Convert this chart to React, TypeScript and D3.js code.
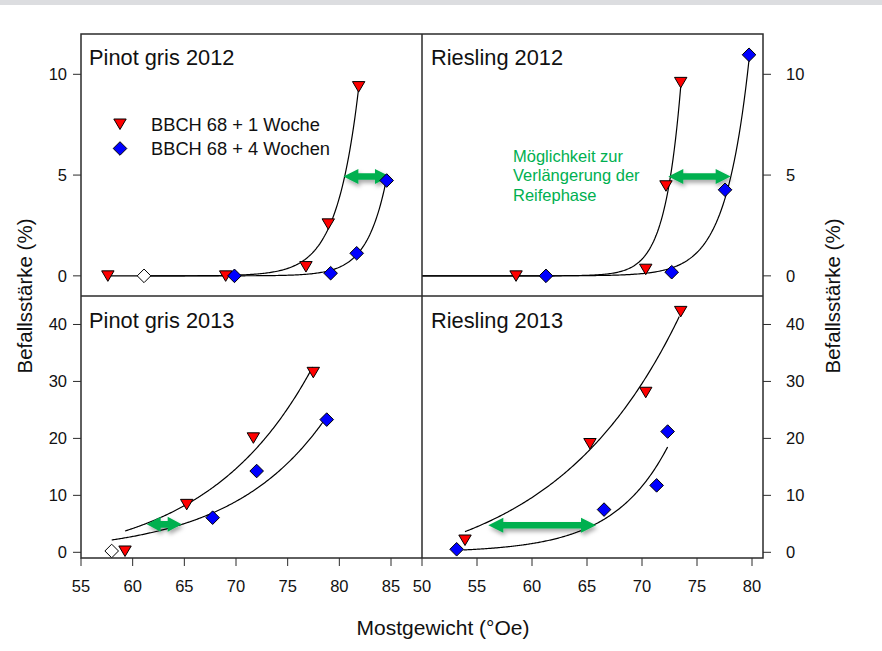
import React from "react";
import * as d3 from "d3";

// ---- data ----
const pg2012Red: [number, number][] = [[57.6, 0], [69.0, 0], [76.77, 0.46], [78.93, 2.58], [81.87, 9.39]];
const pg2012Blue: [number, number][] = [[69.85, 0], [79.16, 0.13], [81.68, 1.12], [84.58, 4.73]];
const pg2012Open: [number, number][] = [[61.1, 0]];

const r2012Red: [number, number][] = [[58.55, 0], [70.34, 0.33], [72.18, 4.47], [73.52, 9.6]];
const r2012Blue: [number, number][] = [[61.27, 0], [72.7, 0.18], [77.55, 4.27], [79.73, 10.97]];
const r2012Open: [number, number][] = [];

const pg2013Red: [number, number][] = [[59.26, 0.23], [65.23, 8.42], [71.68, 20.1], [77.48, 31.6]];
const pg2013Blue: [number, number][] = [[67.74, 6.08], [72.0, 14.27], [78.78, 23.3]];
const pg2013Open: [number, number][] = [[57.97, 0.23]];

const r2013Red: [number, number][] = [[53.91, 2.16], [65.27, 19.1], [70.34, 28.1], [73.52, 42.3]];
const r2013Blue: [number, number][] = [[53.15, 0.53], [66.55, 7.5], [71.33, 11.75], [72.33, 21.2]];
const r2013Open: [number, number][] = [];

// exponential regression curves: [xStart, xEnd, y0, a, b, xRef]  y = y0 + a*exp(b*(x-xRef))
const fitPg2012Red = [57.6, 81.87, 0, 9.32, 0.47, 81.87];
const fitPg2012Blue = [61.1, 84.58, 0, 4.85, 0.53, 84.58];
const fitR2012Red = [50, 73.52, 0, 9.39, 0.69, 73.52];
const fitR2012Blue = [50, 79.73, 0, 10.72, 0.47, 79.73];
const fitPg2013Red = [59.26, 77.42, -2.23, 5.97, 0.097, 59.26];
const fitPg2013Blue = [57.97, 78.45, -0.34, 2.5, 0.109, 57.97];
const fitR2013Red = [53.91, 73.39, -5.07, 8.7, 0.086, 53.91];
const fitR2013Blue = [53.76, 72.33, -0.04, 0.452, 0.2, 53.76];

// green double arrows: [xFrom, xTo, y]
const arrowPg2012 = [80.39, 84.9, 4.93];
const arrowR2012 = [72.39, 78.06, 4.93];
const arrowPg2013 = [61.36, 64.74, 4.91];
const arrowR2013 = [56.03, 65.82, 4.74];

const titles = ["Pinot gris 2012", "Riesling 2012", "Pinot gris 2013", "Riesling 2013"];
const xTicksLeft = [55, 60, 65, 70, 75, 80, 85];
const xTicksRight = [50, 55, 60, 65, 70, 75, 80];
const yTicksTop = [0, 5, 10];
const yTicksBottom = [0, 10, 20, 30, 40];
const legendLabels = ["BBCH 68 + 1 Woche", "BBCH 68 + 4 Wochen"];
const noteLines = ["Möglichkeit zur", "Verlängerung der", "Reifephase"];
const xTitle = "Mostgewicht (°Oe)";
const yTitle = "Befallsstärke (%)";

const FONT = "'Liberation Sans', Arial, Helvetica, sans-serif";
const GREEN = "#00b050";
const FRAME = "#2b2b2b";

const W = 882, H = 651;
const L = 81, M = 422, R = 763, T = 34, MID = 296, B = 558;

const xLeft = d3.scaleLinear().domain([55, 88]).range([L, M]);
const xRight = d3.scaleLinear().domain([50, 81]).range([M, R]);
const yTop = d3.scaleLinear().domain([-1, 12]).range([MID, T]);
const yBottom = d3.scaleLinear().domain([-1, 45]).range([B, MID]);

type Panel = {
  title: string; x: d3.ScaleLinear<number, number>; y: d3.ScaleLinear<number, number>;
  red: [number, number][]; blue: [number, number][]; open: [number, number][];
  fits: number[][]; arrow: number[];
};

const panels: Panel[] = [
  { title: titles[0], x: xLeft, y: yTop, red: pg2012Red, blue: pg2012Blue, open: pg2012Open, fits: [fitPg2012Red, fitPg2012Blue], arrow: arrowPg2012 },
  { title: titles[1], x: xRight, y: yTop, red: r2012Red, blue: r2012Blue, open: r2012Open, fits: [fitR2012Red, fitR2012Blue], arrow: arrowR2012 },
  { title: titles[2], x: xLeft, y: yBottom, red: pg2013Red, blue: pg2013Blue, open: pg2013Open, fits: [fitPg2013Red, fitPg2013Blue], arrow: arrowPg2013 },
  { title: titles[3], x: xRight, y: yBottom, red: r2013Red, blue: r2013Blue, open: r2013Open, fits: [fitR2013Red, fitR2013Blue], arrow: arrowR2013 },
];

const tri = (cx: number, cy: number) => `M${cx - 6.2},${cy - 5} L${cx + 6.2},${cy - 5} L${cx},${cy + 5.5} Z`;
const dia = (cx: number, cy: number) => `M${cx},${cy - 6.8} L${cx + 6.8},${cy} L${cx},${cy + 6.8} L${cx - 6.8},${cy} Z`;

function arrowPath(x1: number, x2: number, y: number) {
  const len = x2 - x1;
  const h = Math.min(15, len * 0.4);
  const hw = 7.5, sw = 3.3;
  return `M${x1},${y} L${x1 + h},${y - hw} L${x1 + h},${y - sw} L${x2 - h},${y - sw} L${x2 - h},${y - hw} L${x2},${y} L${x2 - h},${y + hw} L${x2 - h},${y + sw} L${x1 + h},${y + sw} L${x1 + h},${y + hw} Z`;
}

function fitLine(p: Panel, f: number[]) {
  const [xs, xe, y0, a, b, xr] = f;
  const n = 200;
  const pts: [number, number][] = d3.range(n + 1).map((i) => {
    const xv = xs + ((xe - xs) * i) / n;
    return [xv, y0 + a * Math.exp(b * (xv - xr))];
  });
  return d3.line<[number, number]>().x((d) => p.x(d[0])).y((d) => p.y(d[1]))(pts) || "";
}

export default function App() {
  return (
    <svg width={W} height={H} style={{ position: "absolute", left: 0, top: 0, background: "#fff" }} fontFamily={FONT}>
      <defs>
        <filter id="shadow" x="-30%" y="-100%" width="160%" height="300%">
          <feDropShadow dx="1.5" dy="3" stdDeviation="2" floodColor="#000" floodOpacity="0.35" />
        </filter>
      </defs>
      <rect x={0} y={0} width={W} height={H} fill="#fff" />
      <rect x={0} y={0} width={W} height={5} fill="#dcdde0" />

      {panels.map((p, i) => (
        <g key={i}>
          {p.fits.map((f, j) => (
            <path key={j} d={fitLine(p, f)} fill="none" stroke="#000" strokeWidth={1.2} />
          ))}
          <path d={arrowPath(p.x(p.arrow[0]), p.x(p.arrow[1]), p.y(p.arrow[2]))} fill={GREEN} filter="url(#shadow)" />
          {p.open.map((d, j) => (
            <path key={"o" + j} d={dia(p.x(d[0]), p.y(d[1]))} fill="#fff" stroke="#000" strokeWidth={1} />
          ))}
          {p.red.map((d, j) => (
            <path key={"r" + j} d={tri(p.x(d[0]), p.y(d[1]))} fill="#ff0000" stroke="#000" strokeWidth={1} />
          ))}
          {p.blue.map((d, j) => (
            <path key={"b" + j} d={dia(p.x(d[0]), p.y(d[1]))} fill="#0000ff" stroke="#000" strokeWidth={1} />
          ))}
          <text x={i % 2 === 0 ? 89 : 431} y={i < 2 ? 65 : 328} fontSize={21.8} fill="#111">{p.title}</text>
        </g>
      ))}

      {/* frame */}
      <rect x={L} y={T} width={R - L} height={B - T} fill="none" stroke={FRAME} strokeWidth={1.5} />
      <line x1={L} x2={R} y1={MID} y2={MID} stroke={FRAME} strokeWidth={1.5} />
      <line x1={M} x2={M} y1={T} y2={B} stroke={FRAME} strokeWidth={1.5} />

      {/* y ticks */}
      {yTicksTop.map((t) => (
        <g key={"lt" + t}>
          <line x1={L - 8} x2={L} y1={yTop(t)} y2={yTop(t)} stroke={FRAME} strokeWidth={1} />
          <text x={L - 14} y={yTop(t)} dy="0.35em" textAnchor="end" fontSize={16.5} fill="#111">{t}</text>
          <line x1={R} x2={R + 8} y1={yTop(t)} y2={yTop(t)} stroke={FRAME} strokeWidth={1} />
          <text x={R + 23} y={yTop(t)} dy="0.35em" textAnchor="start" fontSize={16.5} fill="#111">{t}</text>
        </g>
      ))}
      {yTicksBottom.map((t) => (
        <g key={"lb" + t}>
          <line x1={L - 8} x2={L} y1={yBottom(t)} y2={yBottom(t)} stroke={FRAME} strokeWidth={1} />
          <text x={L - 14} y={yBottom(t)} dy="0.35em" textAnchor="end" fontSize={16.5} fill="#111">{t}</text>
          <line x1={R} x2={R + 8} y1={yBottom(t)} y2={yBottom(t)} stroke={FRAME} strokeWidth={1} />
          <text x={R + 23} y={yBottom(t)} dy="0.35em" textAnchor="start" fontSize={16.5} fill="#111">{t}</text>
        </g>
      ))}
      {/* x ticks */}
      {xTicksLeft.map((t) => (
        <g key={"xl" + t}>
          <line x1={xLeft(t)} x2={xLeft(t)} y1={B} y2={B + 8} stroke={FRAME} strokeWidth={1} />
          <text x={xLeft(t)} y={592} textAnchor="middle" fontSize={16.5} fill="#111">{t}</text>
        </g>
      ))}
      {xTicksRight.map((t) => (
        <g key={"xr" + t}>
          <line x1={xRight(t)} x2={xRight(t)} y1={B} y2={B + 8} stroke={FRAME} strokeWidth={1} />
          <text x={xRight(t)} y={592} textAnchor="middle" fontSize={16.5} fill="#111">{t}</text>
        </g>
      ))}

      {/* axis titles */}
      <text x={443} y={635} textAnchor="middle" fontSize={21} fill="#111">{xTitle}</text>
      <text transform="translate(32,296) rotate(-90)" textAnchor="middle" fontSize={20.5} fill="#111">{yTitle}</text>
      <text transform="translate(840,296) rotate(-90)" textAnchor="middle" fontSize={20.5} fill="#111">{yTitle}</text>

      {/* legend */}
      <path d={tri(120, 124)} fill="#ff0000" stroke="#000" strokeWidth={1} />
      <text x={151} y={130.5} fontSize={18.3} fill="#111">{legendLabels[0]}</text>
      <path d={dia(120, 148.5)} fill="#0000ff" stroke="#000" strokeWidth={1} />
      <text x={151} y={155} fontSize={18.3} fill="#111">{legendLabels[1]}</text>

      {/* note */}
      {noteLines.map((s, i) => (
        <text key={s} x={513} y={162 + i * 19.3} fontSize={16.5} fill={GREEN}>{s}</text>
      ))}
    </svg>
  );
}
